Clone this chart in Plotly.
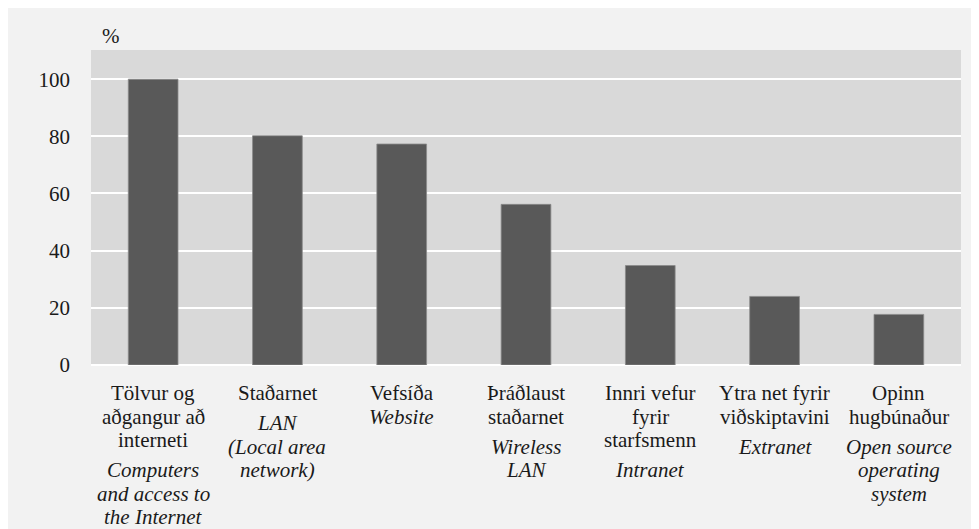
import plotly.graph_objects as go

categories = ["Tölvur og aðgangur að interneti", "Staðarnet", "Vefsíða", "Þráðlaust staðarnet",
              "Innri vefur fyrir starfsmenn", "Ytra net fyrir viðskiptavini", "Opinn hugbúnaður"]
values = [100, 80.2, 77.3, 56.2, 34.8, 24.0, 17.7]
label_is = [["Tölvur og", "aðgangur að", "interneti"], ["Staðarnet"], ["Vefsíða"],
            ["Þráðlaust", "staðarnet"], ["Innri vefur", "fyrir", "starfsmenn"],
            ["Ytra net fyrir", "viðskiptavini"], ["Opinn", "hugbúnaður"]]
label_en = [["Computers", "and access to", "the Internet"], ["LAN", "(Local area", "network)"],
            ["Website"], ["Wireless", "LAN"], ["Intranet"], ["Extranet"],
            ["Open source", "operating", "system"]]
label_gap = [True, True, False, True, True, True, True]
y_ticks = [0, 20, 40, 60, 80, 100]

FONT = "Liberation Serif"
FS = 21
W, H = 979, 529
L, R, T, B = 83, 26, 42, 172
pw, ph = W - L - R, H - T - B
plot_bottom = H - B  # figure px

fig = go.Figure(go.Bar(
    x=categories, y=values, width=0.4,
    marker=dict(color="#595959", line=dict(color="#8a8a8a", width=0.8)),
))

ann = []
line_h = 23.5
extra = 6.5
for cat, is_lines, en_lines, gap in zip(categories, label_is, label_en, label_gap):
    base = 392  # first baseline in figure px
    k = 0
    for ln in is_lines:
        mid = base + k * line_h - 7
        ann.append(dict(x=cat, xref="x", y=0, yref="paper", yanchor="middle", xanchor="center",
                        yshift=-(mid - plot_bottom), text=ln, showarrow=False,
                        font=dict(family=FONT, size=FS, color="#1a1a1a")))
        k += 1
    off = extra if gap else 0
    for ln in en_lines:
        mid = base + k * line_h + off - 7
        ann.append(dict(x=cat, xref="x", y=0, yref="paper", yanchor="middle", xanchor="center",
                        yshift=-(mid - plot_bottom), text=ln, showarrow=False,
                        font=dict(family=FONT, size=FS, color="#1a1a1a", style="italic")))
        k += 1

ann.append(dict(x=(103 - L) / pw, xref="paper", y=(H - B - 28) / ph, yref="paper",
                xanchor="center", yanchor="middle", text="%", showarrow=False,
                font=dict(family=FONT, size=FS, color="#1a1a1a")))

fig.update_layout(
    width=W, height=H,
    margin=dict(l=L, r=R, t=T, b=B),
    paper_bgcolor="#f2f2f2",
    plot_bgcolor="#d9d9d9",
    showlegend=False,
    annotations=ann,
    font=dict(family=FONT, size=FS, color="#1a1a1a"),
    xaxis=dict(showticklabels=False, showgrid=False, zeroline=False, showline=False, ticks=""),
    yaxis=dict(range=[0, 110.2], tickvals=y_ticks, showgrid=True, gridcolor="white", gridwidth=1.5,
               zeroline=True, zerolinecolor="white", zerolinewidth=1.5, showline=False, ticks="",
               ticklabelstandoff=20, tickfont=dict(family=FONT, size=FS, color="#1a1a1a")),
)
fig.write_html("out.html")
